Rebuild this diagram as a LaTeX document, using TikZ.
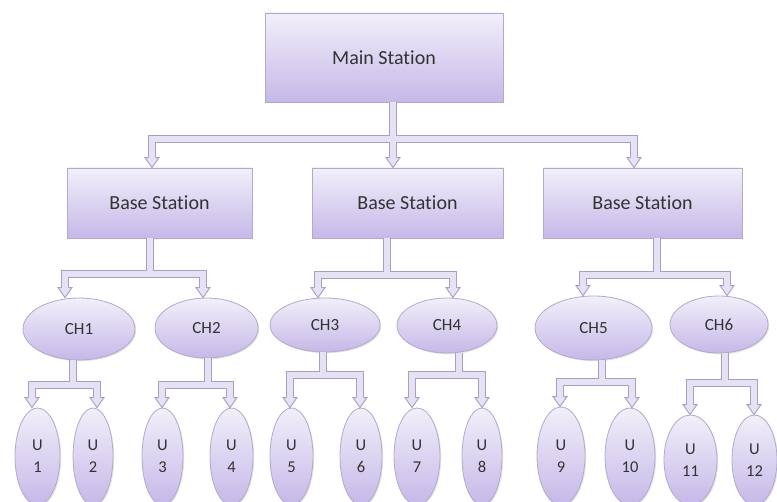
\documentclass[tikz,border=0pt]{standalone}
\usepackage{fontspec}
\setmainfont[Ligatures={NoCommon,NoRequired,NoContextual}]{Carlito}
\usetikzlibrary{shapes.geometric,calc,shadows}
\definecolor{boxtop}{HTML}{F2EFFA}
\definecolor{boxbot}{HTML}{C6B8E8}
\definecolor{boxedge}{HTML}{B3AAC9}
\definecolor{pipeedge}{HTML}{A99FC6}
\definecolor{pipefill}{HTML}{E6E1F3}
\definecolor{txt}{HTML}{333333}
\newcommand\tipat[1]{\filldraw[tipst] ($(#1)+(-3.5,-10)$) -- ($(#1)+(-7,-10)$) -- (#1) -- ($(#1)+(7,-10)$) -- ($(#1)+(3.5,-10)$);}
\newcommand\pipetwo[8]{%
  \coordinate (#8s) at ($(#1.south)+(#2,0)$);
  \coordinate (#8j) at ($(#8s)+(0,#3)$);
  \coordinate (#8a) at ($(#4.north)+(#5,0)$);
  \coordinate (#8b) at ($(#6.north)+(#7,0)$);
  \draw[pipe] ($(#8a)+(0,-10)$) -- (#8a |- #8j) -- (#8b |- #8j) -- ($(#8b)+(0,-10)$) (#8s) -- (#8j);
  \tipat{#8a}\tipat{#8b}%
}
\begin{document}
\begin{tikzpicture}[x=1pt,y=-1pt,
  box/.style={rectangle, draw=boxedge, line width=0.8pt, top color=boxtop, bottom color=boxbot,
    text=txt, font=\fontsize{20}{24}\selectfont, inner sep=0,
    drop shadow={shadow xshift=1.2pt, shadow yshift=-1.2pt, fill=black!35, opacity=.35}},
  ell/.style={ellipse, draw=boxedge, line width=0.8pt, top color=boxtop, bottom color=boxbot,
    text=txt, inner sep=0, align=center,
    drop shadow={shadow xshift=1.2pt, shadow yshift=-1.2pt, fill=black!35, opacity=.3}},
  chn/.style={ell, font=\fontsize{17}{20}\selectfont},
  un/.style={ell, font=\fontsize{16.5}{22}\selectfont},
  pipe/.style={draw=pipefill, line width=6pt, line join=miter,
    preaction={draw=pipeedge, line width=8pt, line join=miter}},
  tipst/.style={fill=pipefill, draw=pipeedge, line width=0.9pt, line join=miter}]
\clip (0,0) rectangle (777,502);
\fill[white] (0,0) rectangle (777,502);
% main and base stations
\node[box, minimum width=238, minimum height=89] (main) at (384,57.5) {Main Station};
\node[box, minimum width=185, minimum height=70] (b1) at (159.5,203) {Base Station};
\node[box, minimum width=191, minimum height=70] (b2) at (407.5,203) {Base Station};
\node[box, minimum width=199, minimum height=70] (b3) at (642.5,203) {Base Station};
% cluster heads
\node[chn, minimum width=112, minimum height=62] (ch1) at (79,329) {CH1};
\node[chn, minimum width=103, minimum height=60] (ch2) at (206.5,328) {CH2};
\node[chn, minimum width=110, minimum height=54] (ch3) at (325,325) {CH3};
\node[chn, minimum width=100, minimum height=55] (ch4) at (447,325.5) {CH4};
\node[chn, minimum width=117, minimum height=64] (ch5) at (593.5,328) {CH5};
\node[chn, minimum width=98, minimum height=57] (ch6) at (719,324.5) {CH6};
% users
\node[un, minimum width=45, minimum height=97] (u1) at (37.5,456.5) {U\\1};
\node[un, minimum width=40, minimum height=97] (u2) at (93,456.5) {U\\2};
\node[un, minimum width=41, minimum height=97] (u3) at (162.5,456.5) {U\\3};
\node[un, minimum width=43, minimum height=97] (u4) at (231.5,456.5) {U\\4};
\node[un, minimum width=43, minimum height=97] (u5) at (291.5,456.5) {U\\5};
\node[un, minimum width=42, minimum height=97] (u6) at (361,456.5) {U\\6};
\node[un, minimum width=46, minimum height=97] (u7) at (417,456.5) {U\\7};
\node[un, minimum width=40, minimum height=97] (u8) at (482,456.5) {U\\8};
\node[un, minimum width=48, minimum height=98] (u9) at (561,456) {U\\9};
\node[un, minimum width=50, minimum height=97] (u10) at (630,456.5) {U\\10};
\node[un, minimum width=53, minimum height=90] (u11) at (690.5,460) {U\\11};
\node[un, minimum width=45, minimum height=90] (u12) at (754.5,460) {U\\12};
% top tree
\coordinate (s0) at ($(main.south)+(9,0)$);
\coordinate (j0) at ($(s0)+(0,37)$);
\coordinate (t1) at ($(b1.north)+(-7.5,0)$);
\coordinate (t2) at ($(b2.north)+(-14.5,0)$);
\coordinate (t3) at ($(b3.north)+(-8.5,0)$);
\draw[pipe] ($(t1)+(0,-10)$) -- (t1 |- j0) -- (t3 |- j0) -- ($(t3)+(0,-10)$) (s0) -- ($(t2)+(0,-10)$);
\tipat{t1}\tipat{t2}\tipat{t3}
% base station trees
\pipetwo{b1}{-9.5}{36}{ch1}{-14}{ch2}{-3.5}{p1}
\pipetwo{b2}{-20.5}{37}{ch3}{-7}{ch4}{6}{p2}
\pipetwo{b3}{14.5}{37}{ch5}{-10.5}{ch6}{8}{p3}
% cluster head trees
\pipetwo{ch1}{-6}{25}{u1}{-5.5}{u2}{4}{q1}
\pipetwo{ch2}{1.5}{27}{u3}{-0.5}{u4}{-1.5}{q2}
\pipetwo{ch3}{-2}{23}{u5}{-1.5}{u6}{-1}{q3}
\pipetwo{ch4}{12}{22}{u7}{-5}{u8}{0}{q4}
\pipetwo{ch5}{8.5}{22}{u9}{-1}{u10}{2}{q5}
\pipetwo{ch6}{6}{30}{u11}{-0.5}{u12}{-0.5}{q6}
\end{tikzpicture}
\end{document}
